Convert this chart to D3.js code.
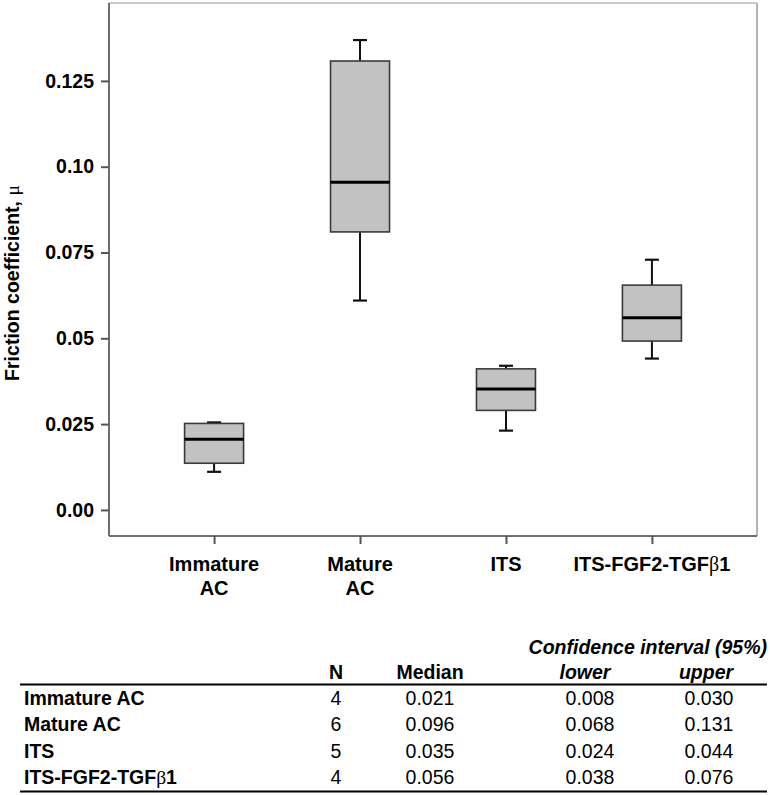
<!DOCTYPE html>
<html>
<head>
<meta charset="utf-8">
<script src="https://cdn.jsdelivr.net/npm/d3@7"></script>
<style>
  html, body { margin: 0; padding: 0; background: #fff; }
  svg { display: block; }
  text { font-family: Arial, "Liberation Sans", Helvetica, sans-serif; fill: #000; }
</style>
</head>
<body>
<svg id="chart" width="770" height="795"></svg>
<script>
// ---- Data ----
const categories = ["Immature AC", "Mature AC", "ITS", "ITS-FGF2-TGFβ1"];
const categoryLines = [["Immature", "AC"], ["Mature", "AC"], ["ITS"], ["ITS-FGF2-TGFβ1"]];
const whiskerLow  = [0.0111, 0.061, 0.0231, 0.0441];
const q1          = [0.0136, 0.081, 0.0290, 0.0492];
const median      = [0.0206, 0.0955, 0.0352, 0.0560];
const q3          = [0.0252, 0.1308, 0.0411, 0.0655];
const whiskerHigh = [0.0255, 0.1369, 0.0420, 0.0729];
const yTicks = [0, 0.025, 0.05, 0.075, 0.10, 0.125];
const yTickLabels = ["0.00", "0.025", "0.05", "0.075", "0.10", "0.125"];

const tableRows   = ["Immature AC", "Mature AC", "ITS", "ITS-FGF2-TGFβ1"];
const tableN      = ["4", "6", "5", "4"];
const tableMedian = ["0.021", "0.096", "0.035", "0.056"];
const ciLower     = ["0.008", "0.068", "0.024", "0.038"];
const ciUpper     = ["0.030", "0.131", "0.044", "0.076"];

(function () {
// ---- Layout ----
const svg = d3.select("#chart");
const pL = 109, pR = 757, pT = 3, pB = 536;

const y = d3.scaleLinear().domain([-0.0076, 0.1477]).range([pB, pT]);
const x = d3.scalePoint().domain(categories).range([pL, pR]).padding(0.72);

// frame: top/right light grey
svg.append("line").attr("x1", pL).attr("x2", pR).attr("y1", pT).attr("y2", pT)
  .attr("stroke", "#c8c8c8").attr("stroke-width", 2);
svg.append("line").attr("x1", pR).attr("x2", pR).attr("y1", pT).attr("y2", pB)
  .attr("stroke", "#b4b4b4").attr("stroke-width", 2);

// Y axis
const yAxis = d3.axisLeft(y).tickValues(yTicks)
  .tickFormat((d, i) => yTickLabels[i]).tickSize(8).tickPadding(7);
const gy = svg.append("g").attr("transform", `translate(${pL},0)`).call(yAxis);
gy.select(".domain").attr("stroke", "#6e6e6e").attr("stroke-width", 2)
  .attr("d", `M0,${pT}V${pB}`);
gy.selectAll(".tick line").attr("stroke", "#555").attr("stroke-width", 2);
gy.selectAll(".tick text").attr("font-size", 19.5).attr("font-weight", "bold")
  .attr("font-family", "Arial, 'Liberation Sans', sans-serif").attr("fill", "#000");

// X axis
const xAxis = d3.axisBottom(x).tickSize(8).tickFormat("");
const gx = svg.append("g").attr("transform", `translate(0,${pB})`).call(xAxis);
gx.select(".domain").attr("stroke", "#6e6e6e").attr("stroke-width", 2)
  .attr("d", `M${pL},0H${pR}`);
gx.selectAll(".tick line").attr("stroke", "#555").attr("stroke-width", 2);

// X labels (multi-line)
categories.forEach((c, i) => {
  const t = svg.append("text").attr("text-anchor", "middle")
    .attr("font-size", 20).attr("font-weight", "bold");
  categoryLines[i].forEach((line, j) => {
    const ts = t.append("tspan").attr("x", x(c)).attr("y", 571 + j * 24);
    if (line.includes("β")) {
      const parts = line.split("β");
      ts.append("tspan").text(parts[0]);
      ts.append("tspan").text("β").attr("font-weight", "normal")
        .attr("font-family", "'Liberation Serif', 'DejaVu Serif', serif");
      ts.append("tspan").text(parts[1]);
    } else {
      ts.text(line);
    }
  });
});

// Y title
const yt = svg.append("text")
  .attr("transform", "translate(19,283) rotate(-90)")
  .attr("text-anchor", "middle").attr("font-size", 19.5).attr("font-weight", "bold");
yt.append("tspan").text("Friction coefficient, ");
yt.append("tspan").text("μ").attr("font-weight", "normal")
  .attr("font-family", "'Liberation Serif', 'DejaVu Serif', serif");

// Boxes
const boxW = 59, capW = 14;
const g = svg.append("g");
categories.forEach((c, i) => {
  const cx = x(c);
  g.append("line").attr("x1", cx).attr("x2", cx).attr("y1", y(q3[i])).attr("y2", y(whiskerHigh[i]))
    .attr("stroke", "#111").attr("stroke-width", 2);
  g.append("line").attr("x1", cx).attr("x2", cx).attr("y1", y(q1[i])).attr("y2", y(whiskerLow[i]))
    .attr("stroke", "#111").attr("stroke-width", 2);
  g.append("line").attr("x1", cx - capW / 2).attr("x2", cx + capW / 2)
    .attr("y1", y(whiskerHigh[i])).attr("y2", y(whiskerHigh[i]))
    .attr("stroke", "#111").attr("stroke-width", 2.2);
  g.append("line").attr("x1", cx - capW / 2).attr("x2", cx + capW / 2)
    .attr("y1", y(whiskerLow[i])).attr("y2", y(whiskerLow[i]))
    .attr("stroke", "#111").attr("stroke-width", 2.2);
  g.append("rect").attr("x", cx - boxW / 2).attr("y", y(q3[i]))
    .attr("width", boxW).attr("height", y(q1[i]) - y(q3[i]))
    .attr("fill", "#c2c2c2").attr("stroke", "#3a3a3a").attr("stroke-width", 1.6);
  g.append("line").attr("x1", cx - boxW / 2).attr("x2", cx + boxW / 2)
    .attr("y1", y(median[i])).attr("y2", y(median[i]))
    .attr("stroke", "#000").attr("stroke-width", 3);
});

// ---- Table ----
const tbl = svg.append("g");
const colN = 336, colMed = 430, colLow = 590, colUp = 709, tLeft = 20, tRight = 767;
const fs = 19.5;

function withBeta(sel, str) {
  const parts = str.split("β");
  sel.append("tspan").text(parts[0]);
  if (parts.length > 1) {
    sel.append("tspan").text("β").attr("font-weight", "normal")
      .attr("font-family", "'Liberation Serif', 'DejaVu Serif', serif");
    sel.append("tspan").text(parts[1]);
  }
}

tbl.append("text").attr("x", tRight).attr("y", 654).attr("text-anchor", "end")
  .attr("font-size", fs).attr("font-weight", "bold").attr("font-style", "italic")
  .text("Confidence interval (95%)");
const headY = 679;
tbl.append("text").attr("x", colN).attr("y", headY).attr("text-anchor", "middle")
  .attr("font-size", fs).attr("font-weight", "bold").text("N");
tbl.append("text").attr("x", colMed).attr("y", headY).attr("text-anchor", "middle")
  .attr("font-size", fs).attr("font-weight", "bold").text("Median");
tbl.append("text").attr("x", 585).attr("y", headY).attr("text-anchor", "middle")
  .attr("font-size", fs).attr("font-weight", "bold").attr("font-style", "italic").text("lower");
tbl.append("text").attr("x", 706).attr("y", headY).attr("text-anchor", "middle")
  .attr("font-size", fs).attr("font-weight", "bold").attr("font-style", "italic").text("upper");

tbl.append("line").attr("x1", tLeft).attr("x2", tRight).attr("y1", 684.5).attr("y2", 684.5)
  .attr("stroke", "#000").attr("stroke-width", 1.8);

const rowY = d3.scaleLinear().domain([0, 1]).range([704.5, 731]);
tableRows.forEach((r, i) => {
  const yy = rowY(i);
  const t = tbl.append("text").attr("x", 24).attr("y", yy)
    .attr("font-size", fs).attr("font-weight", "bold");
  withBeta(t, r);
  tbl.append("text").attr("x", colN).attr("y", yy).attr("text-anchor", "middle")
    .attr("font-size", fs).text(tableN[i]);
  tbl.append("text").attr("x", colMed).attr("y", yy).attr("text-anchor", "middle")
    .attr("font-size", fs).text(tableMedian[i]);
  tbl.append("text").attr("x", colLow).attr("y", yy).attr("text-anchor", "middle")
    .attr("font-size", fs).text(ciLower[i]);
  tbl.append("text").attr("x", colUp).attr("y", yy).attr("text-anchor", "middle")
    .attr("font-size", fs).text(ciUpper[i]);
});

tbl.append("line").attr("x1", tLeft).attr("x2", tRight).attr("y1", 791.5).attr("y2", 791.5)
  .attr("stroke", "#000").attr("stroke-width", 2);
})();
</script>
</body>
</html>
